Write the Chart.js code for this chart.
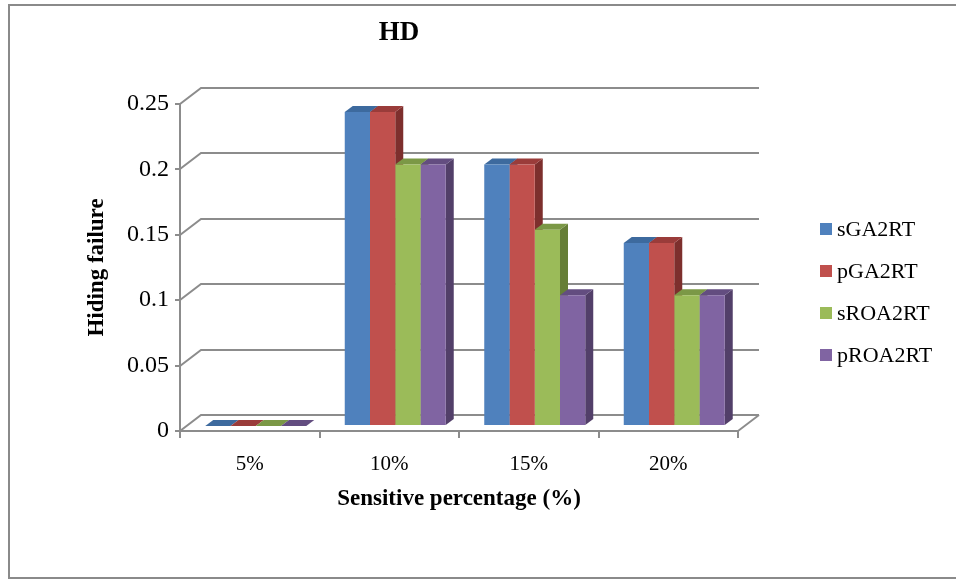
<!DOCTYPE html>
<html>
<head>
<meta charset="utf-8">
<script src="https://cdn.jsdelivr.net/npm/chart.js@4.4.1/dist/chart.umd.min.js"></script>
<style>
  html, body { margin: 0; padding: 0; background: #fff; }
  #wrap { width: 956px; height: 581px; position: relative; }
</style>
</head>
<body>
<div id="wrap"><canvas id="c"></canvas></div>
<script>
// Data
const categories = ['5%', '10%', '15%', '20%'];
const seriesNames = ['sGA2RT', 'pGA2RT', 'sROA2RT', 'pROA2RT'];
const sGA2RT  = [0, 0.24, 0.20, 0.14];
const pGA2RT  = [0, 0.24, 0.20, 0.14];
const sROA2RT = [0, 0.20, 0.15, 0.10];
const pROA2RT = [0, 0.20, 0.10, 0.10];
const yTickLabels = ['0', '0.05', '0.1', '0.15', '0.2', '0.25'];
const chartTitle = 'HD';
const xAxisTitle = 'Sensitive percentage (%)';
const yAxisTitle = 'Hiding failure';

// Face colours: front, top, side
const frontColors = ['#4F81BD', '#C0504D', '#9BBB59', '#8064A2'];
const topColors   = ['#3D6A9E', '#9A3C3A', '#7B9846', '#634D80'];
const sideColors  = ['#375D8A', '#7D2F2D', '#667E37', '#523F69'];

const FONT = '"Liberation Serif", "Times New Roman", serif';
const GRID = '#8c8c8c';
const WALL = [21, -16];   // back-wall offset
const BAR_SHIFT = [6, -5]; // bars sit part-way into the floor
const BAR_DEPTH = [8, -6]; // depth of each bar box

const seriesValues = [sGA2RT, pGA2RT, sROA2RT, pROA2RT];

// Back wall, left wall, floor edges and 3D faces of the bars
const depth3d = {
  id: 'depth3d',
  beforeDatasetsDraw(chart) {
    const { ctx, chartArea: a, scales: { y } } = chart;
    ctx.save();
    ctx.strokeStyle = GRID;
    ctx.lineWidth = 2;
    y.ticks.forEach(t => {
      const py = Math.round(y.getPixelForValue(t.value));
      ctx.beginPath();
      ctx.moveTo(a.left, py);
      ctx.lineTo(a.left + WALL[0], py + WALL[1]);
      ctx.lineTo(a.right + WALL[0], py + WALL[1]);
      ctx.stroke();
    });
    ctx.beginPath();
    ctx.moveTo(a.right, a.bottom);
    ctx.lineTo(a.right + WALL[0], a.bottom + WALL[1]);
    ctx.stroke();
    ctx.restore();

    // bars are drawn shifted into the depth of the floor
    ctx.save();
    ctx.translate(BAR_SHIFT[0], BAR_SHIFT[1]);
    const [dx, dy] = BAR_DEPTH;
    const bars = [];
    chart.data.datasets.forEach((ds, i) => {
      chart.getDatasetMeta(i).data.forEach(el => {
        const p = el.getProps(['x', 'y', 'base', 'width'], true);
        bars.push({ i, L: p.x - p.width / 2, R: p.x + p.width / 2, top: p.y, base: p.base });
      });
    });
    // side faces first, then top faces; front faces come from the bar elements
    bars.forEach(b => {
      ctx.fillStyle = sideColors[b.i];
      ctx.beginPath();
      ctx.moveTo(b.R, b.top);
      ctx.lineTo(b.R + dx, b.top + dy);
      ctx.lineTo(b.R + dx, b.base + dy);
      ctx.lineTo(b.R, b.base);
      ctx.closePath();
      ctx.fill();
    });
    bars.forEach(b => {
      ctx.fillStyle = topColors[b.i];
      ctx.beginPath();
      ctx.moveTo(b.L, b.top);
      ctx.lineTo(b.R, b.top);
      ctx.lineTo(b.R + dx, b.top + dy);
      ctx.lineTo(b.L + dx, b.top + dy);
      ctx.closePath();
      ctx.fill();
    });
  },
  afterDatasetsDraw(chart) {
    chart.ctx.restore();
  }
};

// Title, legend and outer frame
const decor = {
  id: 'decor',
  beforeDraw(chart) {
    const ctx = chart.ctx;
    ctx.save();
    ctx.fillStyle = '#fff';
    ctx.fillRect(0, 0, chart.width, chart.height);
    ctx.restore();
  },
  afterDraw(chart) {
    const ctx = chart.ctx;
    ctx.save();
    ctx.strokeStyle = '#8a8a8a';
    ctx.lineWidth = 2;
    ctx.strokeRect(9, 5, 960, 573);

    ctx.fillStyle = '#000';
    ctx.font = 'bold 27px ' + FONT;
    ctx.textAlign = 'center';
    ctx.textBaseline = 'middle';
    ctx.fillText(chartTitle, 399, 33);

    ctx.font = '22px ' + FONT;
    ctx.textAlign = 'left';
    chart.data.datasets.forEach((ds, i) => {
      const cy = 229 + i * 42;
      ctx.fillStyle = ds.backgroundColor;
      ctx.fillRect(820, cy - 6, 12, 12);
      ctx.fillStyle = '#000';
      ctx.fillText(ds.label, 837, cy + 1);
    });
    ctx.restore();
  }
};

new Chart(document.getElementById('c'), {
  type: 'bar',
  data: {
    labels: categories,
    datasets: seriesNames.map((name, i) => ({
      label: name,
      data: seriesValues[i],
      backgroundColor: frontColors[i],
      borderWidth: 0,
      categoryPercentage: 0.724,
      barPercentage: 1.0,
      clip: false
    }))
  },
  options: {
    responsive: true,
    maintainAspectRatio: false,
    animation: false,
    layout: { padding: { left: 80, right: 218, top: 104, bottom: 68 } },
    plugins: {
      legend: { display: false },
      title: { display: false },
      tooltip: { enabled: false }
    },
    scales: {
      x: {
        offset: true,
        grid: {
          offset: true,
          drawOnChartArea: false,
          drawTicks: true,
          tickLength: 7,
          color: GRID,
          lineWidth: 2
        },
        border: { display: true, color: GRID, width: 2 },
        ticks: {
          color: '#000',
          padding: 14,
          font: { family: FONT, size: 21 }
        },
        title: {
          display: true,
          text: xAxisTitle,
          color: '#000',
          font: { family: FONT, size: 23, weight: 'bold' },
          padding: { top: 0, bottom: 0 }
        },
        afterFit(s) { s.height = 82; }
      },
      y: {
        min: 0,
        max: 0.25,
        grid: {
          drawOnChartArea: false,
          drawTicks: true,
          tickLength: 5,
          color: GRID,
          lineWidth: 2
        },
        border: { display: true, color: GRID, width: 2 },
        ticks: {
          stepSize: 0.05,
          color: '#000',
          padding: 6,
          font: { family: FONT, size: 24 },
          callback: (v, idx) => yTickLabels[idx]
        },
        title: {
          display: true,
          text: yAxisTitle,
          color: '#000',
          font: { family: FONT, size: 23, weight: 'bold' },
          padding: { top: 3, bottom: 0 }
        },
        afterFit(s) { s.width = 100; }
      }
    }
  },
  plugins: [decor, depth3d]
});
</script>
</body>
</html>
